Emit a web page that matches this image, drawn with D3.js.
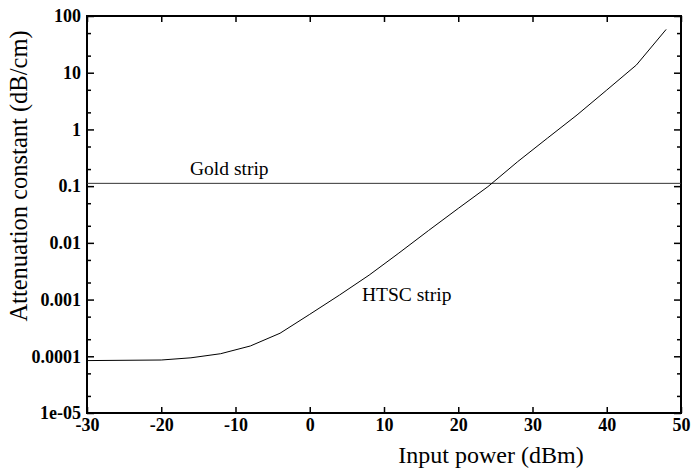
<!DOCTYPE html>
<html>
<head>
<meta charset="utf-8">
<script src="https://cdn.jsdelivr.net/npm/d3@7"></script>
<style>
  html, body { margin: 0; padding: 0; background: #fff; }
  svg { display: block; font-family: "Liberation Serif", "Times New Roman", serif; }
  .tick text { font-family: "Liberation Serif", serif; font-weight: bold; font-size: 18px; fill: #000; }
</style>
</head>
<body>
<svg id="chart" width="691" height="469"></svg>
<script>
// Input power (dBm) and attenuation constant (dB/cm) of the HTSC strip
const powerDbm = [-30, -20, -16, -12, -8, -4, 0, 4, 8, 12, 16, 20, 24, 28, 32, 36, 40, 44, 48];
const htscAttenuation = [8.4e-5, 8.6e-5, 9.4e-5, 1.11e-4, 1.52e-4, 2.55e-4, 5.5e-4, 1.2e-3, 2.7e-3,
                         6.6e-3, 1.65e-2, 4.05e-2, 9.8e-2, 0.27, 0.70, 1.8, 4.95, 13.7, 58];
// Gold strip attenuation is flat over the whole power range
const goldAttenuation = 0.112;

const xTicks = [-30, -20, -10, 0, 10, 20, 30, 40, 50];
const xTickLabels = ["-30", "-20", "-10", "0", "10", "20", "30", "40", "50"];
const yTicks = [1e-5, 1e-4, 1e-3, 1e-2, 0.1, 1, 10, 100];
const yTickLabels = ["1e-05", "0.0001", "0.001", "0.01", "0.1", "1", "10", "100"];

const svg = d3.select("#chart");
const plotLeft = 87, plotRight = 681, plotTop = 16, plotBottom = 413;

const x = d3.scaleLinear().domain([-30, 50]).range([plotLeft, plotRight]);
const y = d3.scaleLog().domain([1e-5, 100]).range([plotBottom, plotTop]);

// minor ticks at 2 and 5 of every decade
const yMinor = [];
for (let e = -5; e < 2; e++) { yMinor.push(2 * Math.pow(10, e), 5 * Math.pow(10, e)); }

const majorLen = 7, minorLen = 4;

// bottom axis with labels, ticks pointing inward
svg.append("g")
  .attr("transform", `translate(0,${plotBottom})`)
  .call(d3.axisBottom(x).tickValues(xTicks).tickSizeInner(-6).tickSizeOuter(0).tickPadding(5)
    .tickFormat((d, i) => xTickLabels[i]))
  .call(g => g.select(".domain").remove());

// top axis ticks
svg.append("g")
  .attr("transform", `translate(0,${plotTop})`)
  .call(d3.axisTop(x).tickValues(xTicks).tickSizeInner(-6).tickSizeOuter(0).tickFormat(""))
  .call(g => g.select(".domain").remove());

// left axis: major with labels, minor without
svg.append("g")
  .attr("transform", `translate(${plotLeft},0)`)
  .call(d3.axisLeft(y).tickValues(yTicks).tickSizeInner(-majorLen).tickSizeOuter(0).tickPadding(6)
    .tickFormat((d, i) => yTickLabels[i]))
  .call(g => g.select(".domain").remove());
svg.append("g")
  .attr("transform", `translate(${plotLeft},0)`)
  .call(d3.axisLeft(y).tickValues(yMinor).tickSizeInner(-minorLen).tickSizeOuter(0).tickFormat(""))
  .call(g => g.select(".domain").remove());

// right axis ticks
svg.append("g")
  .attr("transform", `translate(${plotRight},0)`)
  .call(d3.axisRight(y).tickValues(yTicks).tickSizeInner(-majorLen).tickSizeOuter(0).tickFormat(""))
  .call(g => g.select(".domain").remove());
svg.append("g")
  .attr("transform", `translate(${plotRight},0)`)
  .call(d3.axisRight(y).tickValues(yMinor).tickSizeInner(-minorLen).tickSizeOuter(0).tickFormat(""))
  .call(g => g.select(".domain").remove());

svg.selectAll(".tick line").attr("stroke", "#000").attr("stroke-width", 1.5);

// plot frame
svg.append("rect")
  .attr("x", plotLeft).attr("y", plotTop)
  .attr("width", plotRight - plotLeft).attr("height", plotBottom - plotTop)
  .attr("fill", "none").attr("stroke", "#000").attr("stroke-width", 2);

// gold strip line
svg.append("line")
  .attr("x1", x(-30)).attr("x2", x(50))
  .attr("y1", y(goldAttenuation)).attr("y2", y(goldAttenuation))
  .attr("stroke", "#333").attr("stroke-width", 1);

// HTSC strip curve
const line = d3.line().x((d, i) => x(powerDbm[i])).y(d => y(d));
svg.append("path")
  .datum(htscAttenuation)
  .attr("d", line)
  .attr("fill", "none").attr("stroke", "#000").attr("stroke-width", 1);

// curve labels
svg.append("text").attr("x", 190).attr("y", 175)
  .attr("font-size", 19.5).text("Gold strip");
svg.append("text").attr("x", 362).attr("y", 301)
  .attr("font-size", 19.5).text("HTSC strip");

// axis titles
svg.append("text")
  .attr("x", 491).attr("y", 463).attr("text-anchor", "middle")
  .attr("font-size", 24).text("Input power (dBm)");
svg.append("text")
  .attr("transform", "translate(27,176) rotate(-90)")
  .attr("text-anchor", "middle")
  .attr("font-size", 24.5).text("Attenuation constant (dB/cm)");
</script>
</body>
</html>
